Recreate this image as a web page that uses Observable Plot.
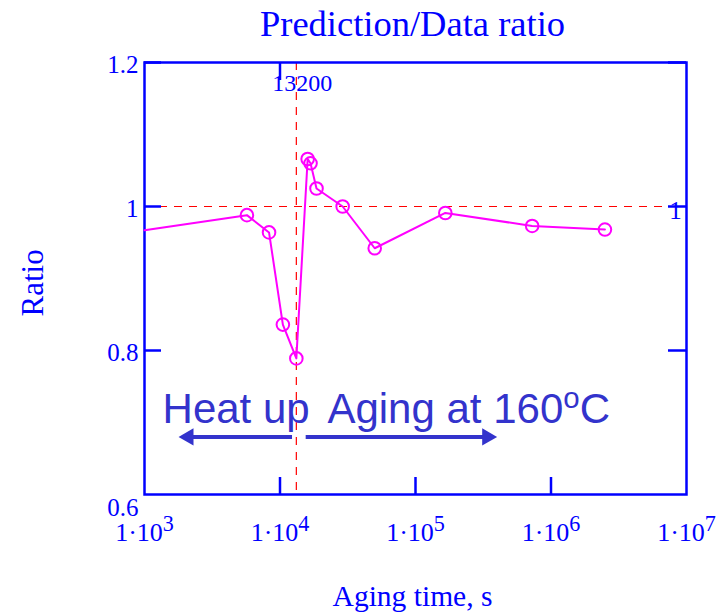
<!DOCTYPE html>
<html><head><meta charset="utf-8">
<script src="https://cdn.jsdelivr.net/npm/d3@7"></script>
<script src="https://cdn.jsdelivr.net/npm/@observablehq/plot@0.6"></script>
<style>body{margin:0;background:#fff;overflow:hidden}</style>
</head><body><div id="chart"></div>
<script>
// ---- data ----
const times  = [1000, 5700, 8300, 10500, 13200, 16000, 16800, 18600, 29000, 50000, 166000, 726000, 2500000];
const ratios = [0.967, 0.988, 0.964, 0.836, 0.789, 1.066, 1.060, 1.025, 1.000, 0.942, 0.991, 0.973, 0.968];
const xTicks = [1e3, 1e4, 1e5, 1e6, 1e7];
const xTickLabels = ["1·10^3", "1·10^4", "1·10^5", "1·10^6", "1·10^7"];
const yTicks = [0.8, 1, 1.2];
const yTickLabels = ["0.8", "1", "1.2"];
const yBottomTick = [0.6];
const yBottomLabel = ["0.6"];
const bottomTicks = [1e4, 1e5, 1e6];
const topTicks = [1e4];
const markerTime = [13200];
const markerLabel = ["13200"];
const refRatio = [1];
const refLabel = ["1"];
const arrowStarts = [12370, 15600];
const arrowTips = [2112, 338000];
const arrowRotate = [-90, 90];
const arrowY = 0.68;
const annotation = ["Heat up\u2009 Aging at 160^o^C"];
const annotationX = [1359];
const annotationY = [0.70];
const title = "Prediction/Data ratio";
const xLabel = "Aging time, s";
const yLabel = "Ratio";

const blue = "#0000ff", magenta = "#ff00ff", red = "#ff0000", ann = "#3333cc";
const serif = "Liberation Serif, Times New Roman, serif";
const sans = "Liberation Sans, Arial, sans-serif";

const pts = times.map((t, i) => ({t, r: ratios[i]}));
const FH = 612 - 62 - 118, FW = 716 - 144 - 30;

const chart = Plot.plot({
  width: 716, height: 612,
  marginTop: 62, marginBottom: 118, marginLeft: 144, marginRight: 30,
  style: {background: "white"},
  x: {type: "log", domain: [1e3, 1e7], axis: null},
  y: {domain: [0.6, 1.2], axis: null},
  marks: [
    Plot.ruleX(markerTime, {x: d => d, stroke: red, strokeWidth: 1.2, strokeDasharray: "8,7"}),
    Plot.ruleY(refRatio, {y: d => d, stroke: red, strokeWidth: 1.2, strokeDasharray: "8,7", insetRight: 14}),
    Plot.frame({stroke: blue, strokeWidth: 2.5}),
    Plot.tickX(bottomTicks, {x: d => d, stroke: blue, strokeWidth: 2.5, insetTop: FH - 17}),
    Plot.tickX(topTicks, {x: d => d, stroke: blue, strokeWidth: 2.5, insetBottom: FH - 18}),
    Plot.tickY(yTicks, {y: d => d, stroke: blue, strokeWidth: 2.5, insetRight: FW - 17}),
    Plot.tickY(yTicks, {y: d => d, stroke: blue, strokeWidth: 2.5, insetLeft: FW - 18}),
    Plot.line(pts, {x: "t", y: "r", stroke: magenta, strokeWidth: 2}),
    Plot.dot(pts.slice(1), {x: "t", y: "r", r: 6.3, stroke: magenta, strokeWidth: 2, fill: "none"}),
    // annotation arrows
    Plot.ruleY([0, 1], {y: () => arrowY, x1: i => arrowStarts[i], x2: i => arrowTips[i], stroke: ann, strokeWidth: 4}),
    Plot.dot([0, 1], {x: i => arrowTips[i], y: () => arrowY, symbol: "triangle", r: 6.4, fill: ann, stroke: "none", rotate: i => arrowRotate[i]}),
    Plot.text(annotation, {x: () => annotationX[0], y: () => annotationY[0], text: d => d, textAnchor: "start", lineAnchor: "bottom",
      fontFamily: sans, fontSize: 42, fill: ann}),
    // tick labels
    Plot.text(yTicks, {y: d => d, text: (d, i) => yTickLabels[i], frameAnchor: "left", textAnchor: "end", lineAnchor: "bottom",
      dx: -6, dy: 10, fontFamily: serif, fontSize: 25, fill: blue}),
    Plot.text(yBottomTick, {y: d => d, text: (d, i) => yBottomLabel[i], frameAnchor: "left", textAnchor: "end", lineAnchor: "bottom",
      dx: -6, dy: 21, fontFamily: serif, fontSize: 25, fill: blue}),
    Plot.text(xTicks, {x: d => d, text: (d, i) => xTickLabels[i], frameAnchor: "bottom", textAnchor: "middle", lineAnchor: "bottom",
      dy: 46, fontFamily: serif, fontSize: 26, fill: blue}),
    Plot.text(markerTime, {x: d => d, text: (d, i) => markerLabel[i], frameAnchor: "top", textAnchor: "middle", lineAnchor: "bottom",
      dx: 6, dy: 28, fontFamily: serif, fontSize: 24, fill: blue}),
    Plot.text(refRatio, {y: d => d, text: (d, i) => refLabel[i], frameAnchor: "right", textAnchor: "middle", lineAnchor: "bottom",
      dx: -11, dy: 12, fontFamily: serif, fontSize: 25, fill: blue}),
    // titles
    Plot.text([title], {text: d => d, frameAnchor: "top", lineAnchor: "bottom", dx: -3, dy: -27, fontFamily: serif, fontSize: 36.5, fill: blue}),
    Plot.text([xLabel], {text: d => d, frameAnchor: "bottom", lineAnchor: "bottom", dx: -3, dy: 111, fontFamily: serif, fontSize: 29.5, fill: blue}),
    Plot.text([yLabel], {text: d => d, frameAnchor: "left", lineAnchor: "bottom", rotate: -90, dx: -102, dy: 38, fontFamily: serif, fontSize: 31, fill: blue})
  ]
});
document.getElementById("chart").appendChild(chart);

// superscripts (exponents / degree sign written as ^...^)
d3.select(chart).selectAll("text").each(function() {
  const el = d3.select(this);
  const s = el.text();
  if (!s.includes("^")) return;
  const parts = s.split("^");
  const big = s.startsWith("Heat");
  const raise = big ? 15 : 10;
  el.text(parts[0]);
  el.append("tspan").attr("dy", -raise).attr("font-size", big ? "0.7em" : "0.85em").text(parts[1]);
  if (parts[2]) el.append("tspan").attr("dy", raise).text(parts[2]);
});
</script></body></html>
